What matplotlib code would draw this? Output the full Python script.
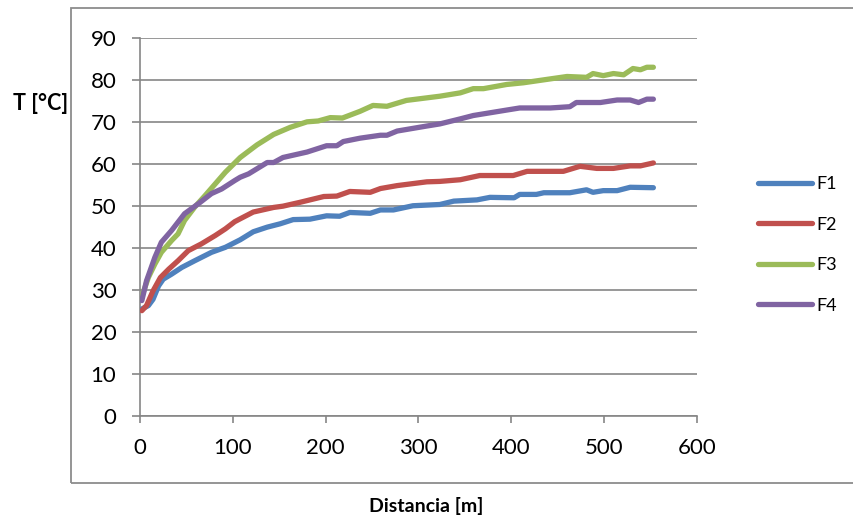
import matplotlib
matplotlib.use("Agg")
import matplotlib.pyplot as plt
from matplotlib.patches import Rectangle

plt.rcParams['font.family'] = ['Lato', 'DejaVu Sans']

# ---- data ----
f1_x = [2, 9, 14, 20, 25, 34, 45, 59, 77, 92, 108, 122, 137, 151, 165, 183, 201, 215, 226, 248,
        259, 273, 294, 323, 338, 363, 377, 403, 409, 427, 435, 463, 481, 488, 499, 514, 528, 553]
f1_t = [25.5, 26.3, 27.8, 31.0, 32.6, 33.8, 35.4, 37.0, 39.0, 40.2, 42.0, 43.9, 45.0, 45.8, 46.8,
        46.9, 47.7, 47.6, 48.5, 48.3, 49.1, 49.1, 50.1, 50.4, 51.2, 51.5, 52.1, 52.0, 52.8, 52.8,
        53.2, 53.2, 53.9, 53.3, 53.7, 53.7, 54.5, 54.4]

f2_x = [2, 7, 14, 22, 31, 41, 52, 66, 81, 92, 102, 108, 122, 144, 154, 172, 198, 212, 226, 248,
        259, 277, 309, 323, 345, 366, 402, 417, 456, 474, 492, 510, 528, 539, 553]
f2_t = [25.1, 26.3, 29.8, 33.0, 35.0, 37.0, 39.4, 41.0, 43.0, 44.6, 46.3, 47.0, 48.6, 49.7, 50.0,
        50.9, 52.3, 52.4, 53.5, 53.3, 54.2, 54.9, 55.8, 55.9, 56.3, 57.3, 57.3, 58.3, 58.3, 59.5,
        59.0, 59.0, 59.6, 59.6, 60.3]

f3_x = [2, 9, 16, 23, 34, 41, 48, 59, 70, 81, 92, 108, 126, 144, 162, 180, 192, 205, 218, 237,
        251, 266, 287, 323, 345, 359, 370, 395, 413, 438, 460, 481, 488, 499, 510, 521, 531, 539,
        546, 553]
f3_t = [28.5, 33.0, 36.2, 39.0, 41.8, 43.4, 46.6, 49.8, 52.5, 55.3, 58.1, 61.6, 64.6, 67.1, 68.8,
        70.1, 70.3, 71.1, 71.0, 72.6, 74.0, 73.8, 75.2, 76.2, 77.0, 78.0, 78.0, 79.0, 79.4, 80.2,
        80.9, 80.7, 81.6, 81.1, 81.6, 81.3, 82.8, 82.5, 83.1, 83.1]

f4_x = [2, 7, 16, 23, 34, 48, 63, 77, 88, 102, 108, 117, 137, 144, 154, 180, 201, 212, 219, 237,
        259, 266, 277, 309, 323, 345, 359, 395, 409, 442, 463, 470, 496, 514, 528, 537, 546, 553]
f4_t = [27.5, 32.2, 37.8, 41.4, 44.2, 48.2, 50.6, 53.0, 54.1, 56.1, 56.9, 57.7, 60.4, 60.4, 61.6,
        62.9, 64.4, 64.4, 65.4, 66.2, 66.9, 66.9, 67.9, 69.1, 69.6, 70.8, 71.6, 72.9, 73.4, 73.4,
        73.7, 74.7, 74.7, 75.3, 75.3, 74.7, 75.5, 75.5]

series_names = ['F1', 'F2', 'F3', 'F4']
series_colors = ['#4F81BD', '#C0504D', '#9BBB59', '#8064A2']
x_ticks = [0, 100, 200, 300, 400, 500, 600]
y_ticks = [0, 10, 20, 30, 40, 50, 60, 70, 80, 90]

W, H = 854, 517
fig = plt.figure(figsize=(W / 100, H / 100), dpi=100)
fig.patch.set_facecolor('white')

# outer chart border
fig.add_artist(Rectangle((71 / W, 1 - 483 / H), (W + 20 - 71) / W, (483 - 7.5) / H,
                         transform=fig.transFigure, fill=False, edgecolor='#8c8c8c',
                         linewidth=1.3, clip_on=False))

ax = fig.add_axes([140 / W, 1 - 416 / H, (697 - 140) / W, (416 - 38.3) / H])

grey = '#868686'
LW = 3.8
for xs, ts, name, col in zip([f1_x, f2_x, f3_x, f4_x], [f1_t, f2_t, f3_t, f4_t],
                             series_names, series_colors):
    ax.plot(xs, ts, color=col, lw=LW, solid_capstyle='round', solid_joinstyle='round',
            label=name, zorder=3)

ax.set_xlim(0, 600)
ax.set_ylim(0, 90)
ax.set_xticks(x_ticks)
ax.set_yticks(y_ticks)
ax.set_xticklabels([str(v) for v in x_ticks])
ax.set_yticklabels([str(v) for v in y_ticks])
ax.grid(axis='y', color=grey, lw=1.2, zorder=1)
ax.set_axisbelow(True)
for s in ['top', 'right']:
    ax.spines[s].set_visible(False)
for s in ['left', 'bottom']:
    ax.spines[s].set_color(grey)
    ax.spines[s].set_linewidth(1.2)
ax.tick_params(axis='y', direction='out', length=6, width=1.2, color=grey, pad=11,
               labelsize=16, labelcolor='black')
ax.tick_params(axis='x', direction='out', length=5, width=1.2, color=grey, pad=11,
               labelsize=16, labelcolor='black')

# axis titles
fig.text(13 / W, 1 - 110 / H, 'T [°C]', fontsize=15.5, fontweight='bold', ha='left',
         va='baseline')
fig.text(426.5 / W, 1 - 506 / H, 'Distancia [m]', fontsize=14, fontweight='bold',
         ha='center', va='center')

leg = ax.legend(loc='center left', bbox_to_anchor=(758 / W, 1 - 245 / H),
                bbox_transform=fig.transFigure, frameon=False, fontsize=13,
                handlelength=3.0, handletextpad=0.25, labelspacing=1.35,
                borderpad=0, borderaxespad=0)
for h in leg.get_lines():
    h.set_linewidth(LW)
    h.set_solid_capstyle('round')

fig.savefig('out.png', dpi=100)
